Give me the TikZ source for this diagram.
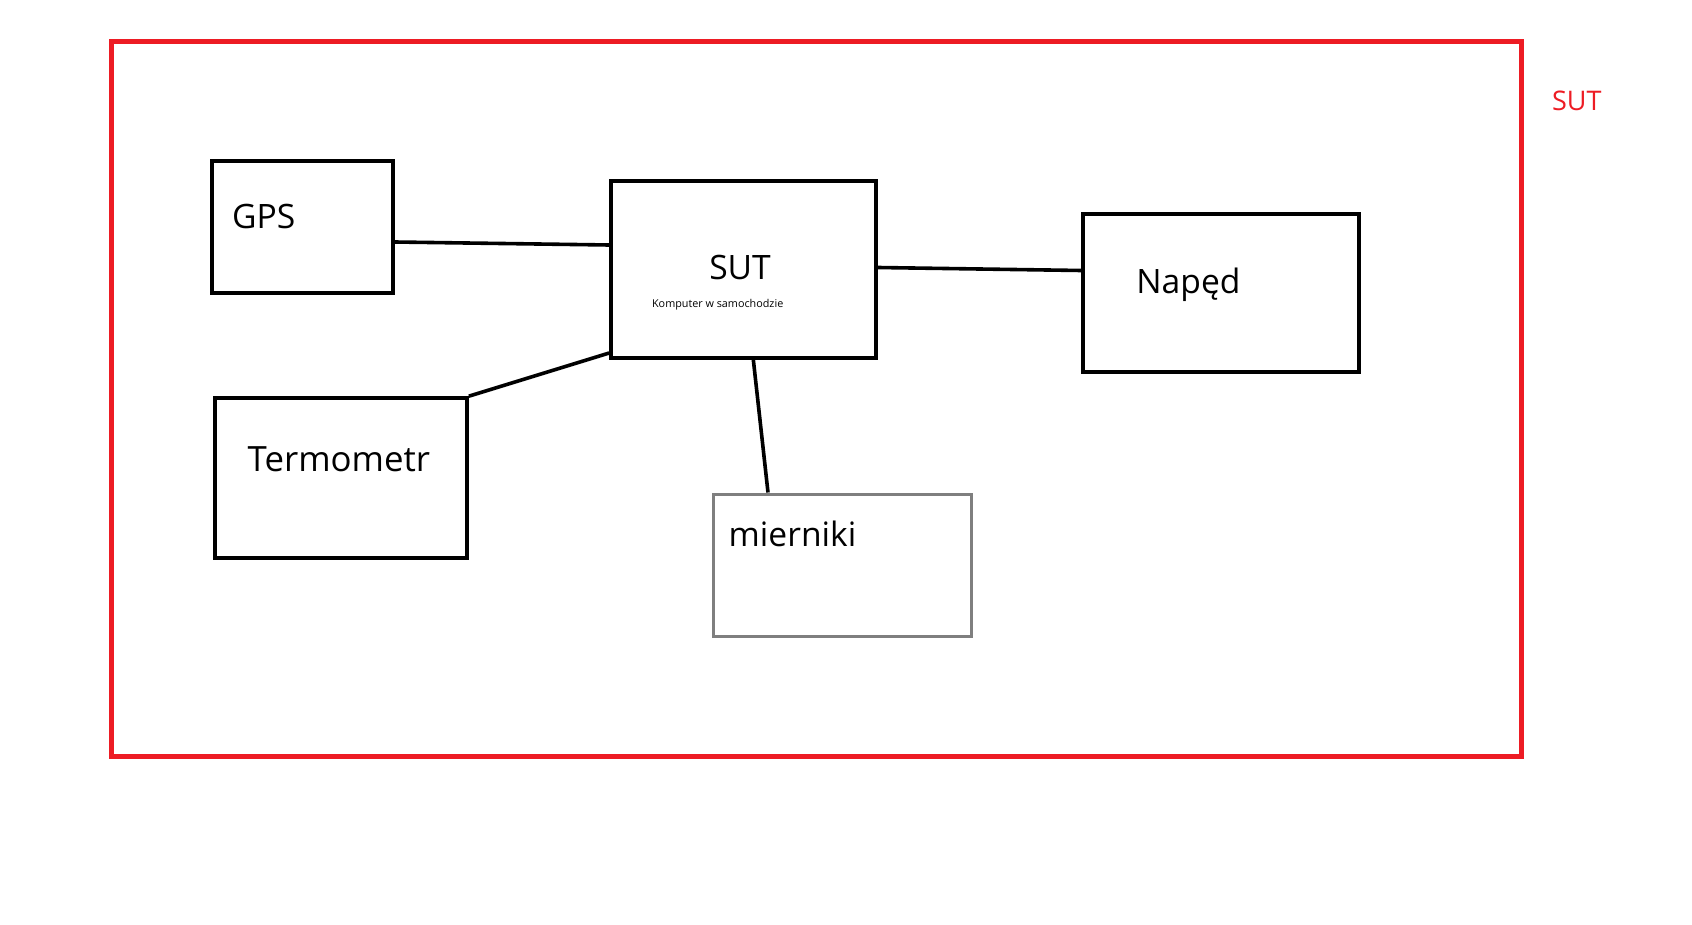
\documentclass[tikz,border=0pt]{standalone}
\usepackage{fontspec}
\setmainfont{Open Sans}
\usetikzlibrary{calc}
\definecolor{paintred}{HTML}{ED1C24}
\definecolor{paintgray}{HTML}{7F7F7F}
\tikzset{
  lbl/.style={anchor=base west, inner sep=0pt, font=\fontsize{16.8}{20}\selectfont},
  conn/.style={draw=black, line width=1.8pt},
}
\begin{document}
\begin{tikzpicture}[x=0.5pt, y=-0.5pt]
\useasboundingbox (0,0) rectangle (1692,925);
% outer red frame
\draw[paintred, line width=2.5pt] (111.5,41.5) rectangle (1521.5,756.5);
\node[anchor=base west, inner sep=0pt, text=paintred, font=\fontsize{13.5}{16}\selectfont] (sutlbl) at (1551.7,110.7) {SUT};
% boxes
\node[draw=black, line width=1.8pt, minimum width=90.5pt, minimum height=66pt, inner sep=0pt] (gps) at (302.5,227) {};
\node[draw=black, line width=1.8pt, minimum width=132.5pt, minimum height=88.5pt, inner sep=0pt] (sut) at (743.5,269.5) {};
\node[draw=black, line width=1.8pt, minimum width=126pt, minimum height=80pt, inner sep=0pt] (term) at (341,478) {};
\node[draw=black, line width=1.8pt, minimum width=138pt, minimum height=79pt, inner sep=0pt] (naped) at (1221,293) {};
\node[draw=paintgray, line width=1.5pt, minimum width=129pt, minimum height=71pt, inner sep=0pt] (miern) at (842,565) {};
% texts
\node[lbl] (gpst) at (231.7,228.3) {GPS};
\node[anchor=base, inner sep=0pt, font=\fontsize{16.8}{20}\selectfont] (sutt) at (740,280) {SUT};
\node[anchor=base west, inner sep=0pt, font=\fontsize{5.4}{6.5}\selectfont] (komp) at (651.7,307.3) {Komputer w samochodzie};
\node[lbl] (napedt) at (1136,293.3) {Napęd};
\node[lbl, font=\fontsize{17.4}{20}\selectfont] (termt) at (247.3,471.7) {Termometr};
\node[lbl] (miernt) at (728.3,546) {mierniki};
% connectors
\draw[conn] ($(gps.east)+(0,15)$) -- ($(sut.west)+(0,-24.5)$);
\draw[conn] ($(sut.east)+(0,-2)$) -- ($(naped.west)+(0,-22.5)$);
\draw[conn] ($(sut.west)+(0,83.5)$) -- (term.north east);
\draw[conn] ($(sut.south)+(9.5,-3)$) -- ($(miern.north)+(-74,0)$);
\end{tikzpicture}
\end{document}
